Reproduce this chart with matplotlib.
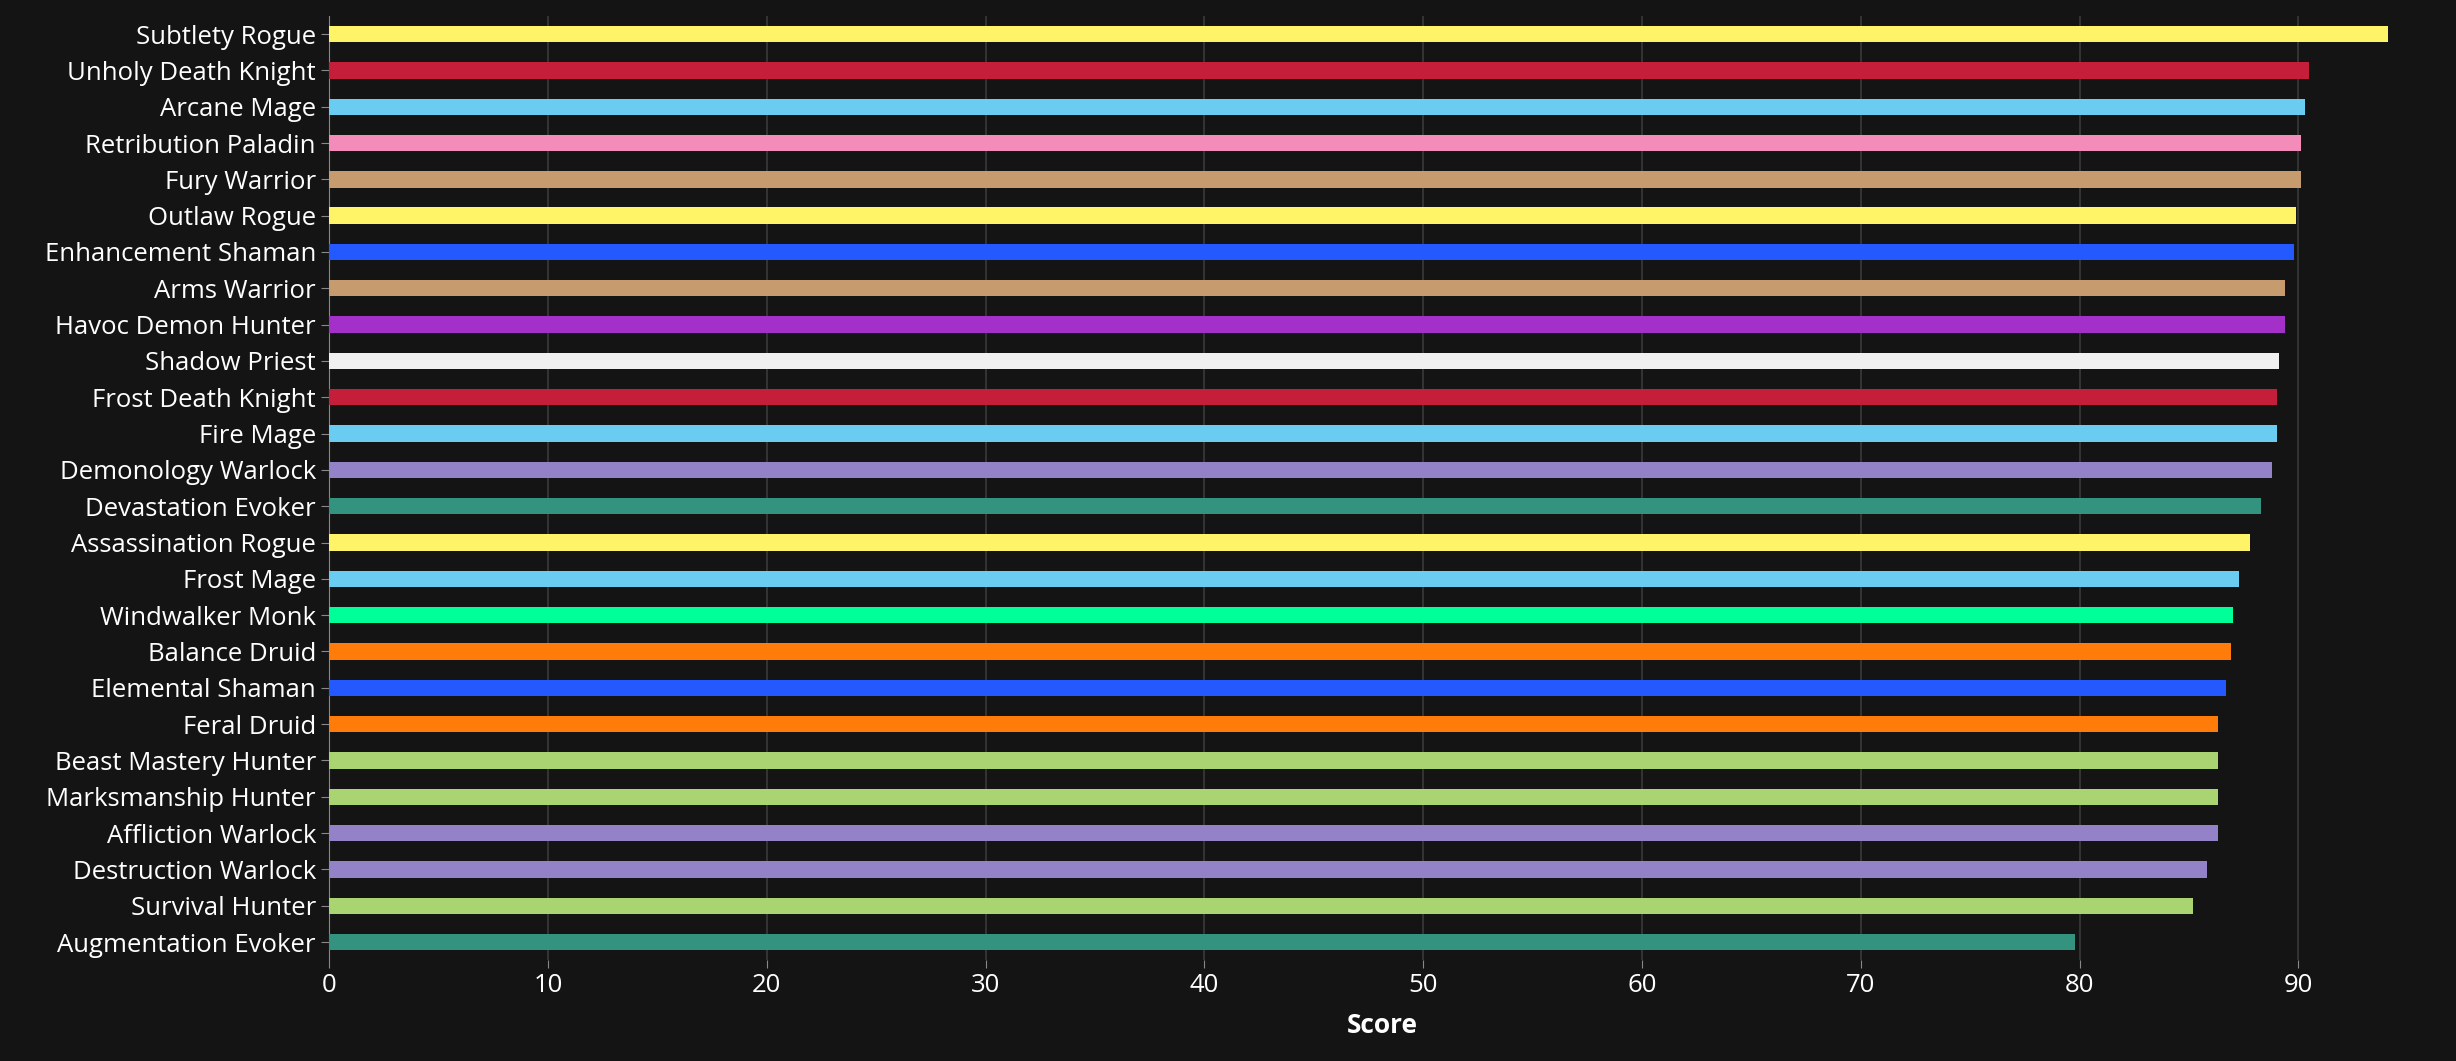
import matplotlib
matplotlib.use("Agg")
import matplotlib.pyplot as plt

specs = ["Subtlety Rogue","Unholy Death Knight","Arcane Mage","Retribution Paladin","Fury Warrior",
         "Outlaw Rogue","Enhancement Shaman","Arms Warrior","Havoc Demon Hunter","Shadow Priest",
         "Frost Death Knight","Fire Mage","Demonology Warlock","Devastation Evoker","Assassination Rogue",
         "Frost Mage","Windwalker Monk","Balance Druid","Elemental Shaman","Feral Druid",
         "Beast Mastery Hunter","Marksmanship Hunter","Affliction Warlock","Destruction Warlock",
         "Survival Hunter","Augmentation Evoker"]
scores = [94.1,90.5,90.3,90.1,90.1,89.9,89.8,89.4,89.4,89.1,89.0,89.0,88.8,88.3,87.8,87.3,87.0,86.9,
          86.7,86.3,86.3,86.3,86.3,85.8,85.2,79.8]
colors = ["#FFF468","#C41E3A","#69CCF0","#F48CBA","#C69B6D","#FFF468","#2459FF","#C69B6D","#A330C9",
          "#F0F0F0","#C41E3A","#69CCF0","#9482C9","#33937F","#FFF468","#69CCF0","#00FF98","#FF7C0A",
          "#2459FF","#FF7C0A","#AAD372","#AAD372","#9482C9","#9482C9","#AAD372","#33937F"]
ticks = [0,10,20,30,40,50,60,70,80,90]

plt.rcParams["font.family"] = "Open Sans"
fig = plt.figure(figsize=(24.56,10.61), dpi=100, facecolor="#141414")
ax = fig.add_axes([0.134,0.095,0.858,0.89], facecolor="#141414")
y = list(range(len(specs)))
ax.barh(y, scores, height=0.45, color=colors, zorder=3)
ax.set_ylim(len(specs)-0.5, -0.5)
ax.set_xlim(0, 96.3)
ax.set_yticks(y)
ax.set_yticklabels(specs, fontsize=18.5)
ax.set_xticks(ticks)
ax.set_xticklabels([str(t) for t in ticks], fontsize=18.5)
ax.grid(axis="x", color="#3a3a3a", linewidth=1.2, zorder=0)
for s in ["top","right","bottom"]:
    ax.spines[s].set_visible(False)
ax.spines["left"].set_color("#888888")
ax.tick_params(color="#888888", labelcolor="white", length=6)
ax.set_xlabel("Score", color="white", fontsize=19, fontweight="bold", labelpad=10)
fig.savefig("out.png", dpi=100, facecolor="#141414")
